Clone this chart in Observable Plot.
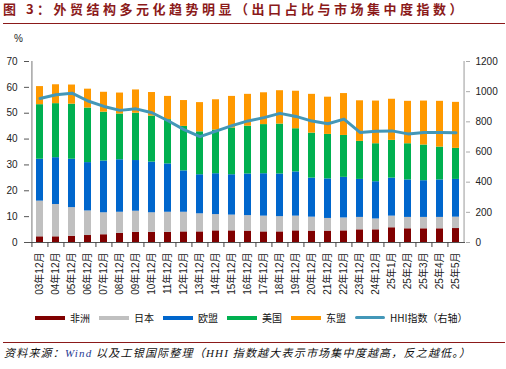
<!DOCTYPE html>
<html>
<head>
<meta charset="utf-8">
<script src="https://cdn.jsdelivr.net/npm/d3@7"></script>
<script src="https://cdn.jsdelivr.net/npm/@observablehq/plot@0.6"></script>
<style>
  html, body { margin: 0; padding: 0; background: #fff; }
  #wrap { position: relative; width: 506px; height: 369px; overflow: hidden; font-family: "Noto Sans CJK SC", "Liberation Sans", sans-serif; }
  #title { position: absolute; left: 3px; top: 0px; font-size: 13px; font-weight: bold; color: #8B1A1A; letter-spacing: 3.5px; white-space: nowrap; line-height: 18px; }
  #tline { position: absolute; left: 3px; width: 502px; top: 23px; height: 1px; background: #8B1A1A; }
  #chart { position: absolute; left: 0; top: 30px; }
  #pct { position: absolute; left: 14px; top: 33px; font-size: 10px; color: #222; font-family: "Liberation Sans", sans-serif; }
  #legend { position: absolute; left: 35px; top: 310px; display: flex; align-items: center; font-size: 10px; color: #111; white-space: nowrap; }
  #legend .it { display: flex; align-items: center; margin-right: 9px; }
  #legend .sw { display: inline-block; width: 30px; height: 4px; margin-right: 5px; }
  #sline { position: absolute; left: 3px; width: 502px; top: 342px; height: 1px; background: #8B1A1A; }
  #source { position: absolute; left: 4px; top: 344px; font-size: 11px; font-style: italic; color: #111; letter-spacing: 1.2px; white-space: nowrap; line-height: 16px; }
  #source .w { color: #1F3A93; font-family: "Liberation Serif", serif; }
  #source .l { font-family: "Liberation Serif", serif; }
</style>
</head>
<body>
<div id="wrap">
  <div id="title">图 3：外贸结构多元化趋势明显（出口占比与市场集中度指数）</div>
  <div id="tline"></div>
  <div id="chart"></div>
  <div id="pct">%</div>
  <div id="legend"></div>
  <div id="sline"></div>
  <div id="source">资料来源：<span class="w">Wind</span> 以及工银国际整理（<span class="l">HHI</span> 指数越大表示市场集中度越高，反之越低。）</div>
</div>
<script>
const categories = ["03年12月","04年12月","05年12月","06年12月","07年12月","08年12月","09年12月","10年12月","11年12月","12年12月","13年12月","14年12月","15年12月","16年12月","17年12月","18年12月","19年12月","20年12月","21年12月","22年12月","23年12月","24年12月","25年1月","25年2月","25年3月","25年4月","25年5月"];

const seriesNames = ["非洲","日本","欧盟","美国","东盟"];
const seriesColors = ["#800000","#C0C0C0","#0066CC","#00B050","#FF9900"];

const africa = [2.2,2.2,2.4,2.7,3.0,3.5,3.9,3.9,3.9,4.1,4.1,4.5,4.5,4.4,4.1,4.1,4.5,4.4,4.4,4.5,4.9,4.9,5.7,5.3,5.3,5.3,5.4];
const japan  = [13.8,12.5,11.1,9.5,8.5,8.2,8.2,7.6,7.8,7.6,7.0,6.3,6.1,6.0,6.1,5.9,5.7,5.4,4.9,5.0,4.8,4.2,4.5,4.4,4.4,4.4,4.4];
const eu     = [16.2,18.1,18.7,18.7,20.0,20.3,19.6,19.6,18.7,16.0,15.1,15.8,15.6,16.1,16.4,16.5,17.1,15.1,15.3,15.7,14.7,14.4,14.7,14.5,14.2,14.5,14.6];
const usa    = [21.1,20.9,21.3,21.1,18.9,17.7,18.3,17.8,17.1,17.2,16.6,16.9,18.1,18.5,19.0,19.3,16.7,17.4,17.2,16.2,14.7,14.7,14.6,14.0,13.8,12.7,12.0];
const asean  = [7.0,7.3,7.4,7.3,7.7,8.1,9.0,9.1,9.0,10.0,11.3,11.7,12.2,12.3,12.3,12.9,14.5,15.0,14.4,16.2,15.7,16.5,15.9,16.4,17.0,17.7,17.8];
const hhi    = [955,980,990,938,902,876,886,860,807,748,702,738,775,806,828,856,836,805,787,818,730,738,740,720,730,730,728];

const leftTicks = [0,10,20,30,40,50,60,70];
const rightTicks = [0,200,400,600,800,1000,1200];
const hhiColor = "#4397B8";

const seriesValues = [africa, japan, eu, usa, asean];
const long = [];
seriesNames.forEach((s, si) => categories.forEach((c, i) => long.push({cat: c, series: s, value: seriesValues[si][i]})));
const hhiData = categories.map((c, i) => ({cat: c, hhi: hhi[i]}));

const W = 506, H = 275, ML = 29, MR = 41, MT = 31, MB = 63;
const step = (W - ML - MR) / categories.length;
const k = 70 / 1200;

const chart = Plot.plot({
  width: W, height: H,
  marginLeft: ML, marginRight: MR, marginTop: MT, marginBottom: MB,
  style: {fontFamily: "'Liberation Sans', 'Noto Sans CJK SC', sans-serif", fontSize: "10px", color: "#222", background: "transparent"},
  x: {domain: categories, paddingInner: 0.57, paddingOuter: 0.285, axis: null},
  y: {domain: [0, 70], axis: null},
  color: {domain: seriesNames, range: seriesColors},
  marks: [
    Plot.barY(long, {x: "cat", y: "value", fill: "series", order: seriesNames}),
    Plot.line(hhiData, {x: "cat", y: d => d.hhi * k, stroke: hhiColor, strokeWidth: 3, strokeLinejoin: "round"}),
    Plot.ruleY([0], {stroke: "#555"}),
    Plot.ruleX([categories[0]], {dx: -step / 2, y1: 0, y2: 70, stroke: "#777"}),
    Plot.ruleX([categories[categories.length - 1]], {dx: step / 2, y1: 0, y2: 70, stroke: "#bbb", strokeWidth: 1.5}),
    Plot.axisY(leftTicks, {anchor: "left", tickSize: 5, tickPadding: 7, label: null, stroke: "#555"}),
    Plot.axisY(rightTicks.map(v => v * k), {anchor: "right", tickSize: 4, tickPadding: 6, label: null, stroke: "#aaa", tickFormat: d => String(Math.round(d / k))}),
    Plot.axisX({tickRotate: -90, tickSize: 0, tickPadding: 10, label: null}),
    Plot.axisX(categories, {tickSize: 5, tickFormat: () => "", dx: -step / 2, label: null, stroke: "#444"})
  ]
});
document.getElementById("chart").appendChild(chart);

const legend = document.getElementById("legend");
seriesNames.forEach((s, i) => {
  const it = document.createElement("div"); it.className = "it";
  it.innerHTML = `<span class="sw" style="background:${seriesColors[i]}"></span><span>${s}</span>`;
  legend.appendChild(it);
});
const it = document.createElement("div"); it.className = "it";
it.innerHTML = `<span class="sw" style="background:${hhiColor};height:3px;border-radius:2px"></span><span>HHI指数（右轴）</span>`;
legend.appendChild(it);
</script>
</body>
</html>
